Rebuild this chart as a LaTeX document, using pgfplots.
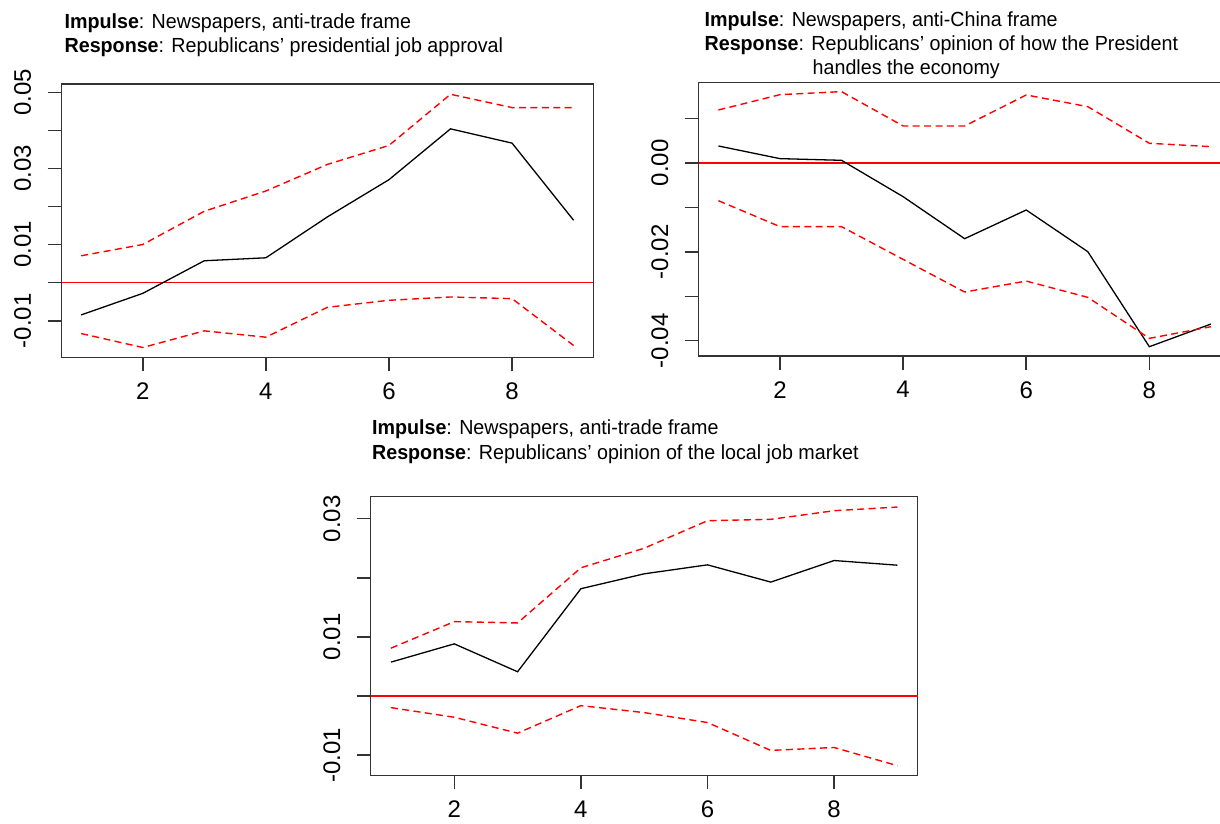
\documentclass[border=0pt]{standalone}
\usepackage{pgfplots}
\pgfplotsset{compat=1.18}
\usepackage{graphicx}
\usepackage{fontspec}
\setmainfont{Liberation Sans}
\pgfplotsset{
  irf/.style={
    scale only axis,
    xmin=0.68, xmax=9.32,
    xtick={2,4,6,8},
    scaled y ticks=false, scaled x ticks=false,
    xtick pos=bottom, ytick pos=left,
    tick align=outside,
    major tick length=7pt,
    every tick/.style={black!80, line width=0.75pt},
    axis line style={black!80, line width=0.75pt},
    /pgf/number format/assume math mode=true,
    ticklabel style={font=\fontsize{12}{14}\selectfont},
    xticklabel style={anchor=north, inner sep=0pt},
    yticklabel style={rotate=90, anchor=south, inner sep=0pt},
    xticklabel shift=5.5pt,
    yticklabel shift=8pt,
    clip=false,
  },
  est/.style={black, line width=0.65pt},
  ci/.style={red, line width=0.7pt, dash pattern=on 3.5pt off 2.2pt},
  zero/.style={red, line width=0.75pt},
}
\newcommand{\ttl}[1]{\scalebox{0.965}[1]{\fontsize{10.2}{12}\selectfont #1}}
\begin{document}
\begin{tikzpicture}
\path[use as bounding box] (0,0) rectangle (610pt,412pt);

% Panel 1
\begin{axis}[irf, at={(30.75pt,233.35pt)}, anchor=south west,
  width=265.9pt, height=136.65pt,
  ymin=-0.01959, ymax=0.05218,
  ytick={-0.01,0,0.01,0.02,0.03,0.04,0.05},
  yticklabels={-0.01,,0.01,,0.03,,0.05}]
\addplot[zero] coordinates {(0.68,0) (9.32,0)};
\addplot[est] coordinates {(1,-0.00846) (2,-0.0028) (3,0.00576) (4,0.00654) (5,0.01728) (6,0.02705) (7,0.0404) (8,0.03665) (9,0.0164)};
\addplot[ci] coordinates {(1,0.00707) (2,0.01003) (3,0.01876) (4,0.02408) (5,0.03106) (6,0.03604) (7,0.04948) (8,0.04599) (9,0.04599)};
\addplot[ci] coordinates {(1,-0.01335) (2,-0.01702) (3,-0.01265) (4,-0.01431) (5,-0.00646) (6,-0.00462) (7,-0.00375) (8,-0.00419) (9,-0.01649)};
\end{axis}
\node[anchor=base west, inner sep=0pt] at (32.1pt,397.85pt) {\ttl{\textbf{Impulse}: Newspapers, anti-trade frame}};
\node[anchor=base west, inner sep=0pt] at (32.1pt,385.85pt) {\ttl{\textbf{Response}: Republicans’ presidential job approval}};

% Panel 2
\begin{axis}[irf, at={(349.35pt,234pt)}, anchor=south west,
  width=265.95pt, height=136.65pt,
  ymin=-0.04344, ymax=0.01807,
  ytick={-0.04,-0.03,-0.02,-0.01,0,0.01},
  yticklabels={-0.04,,-0.02,,0.00,}]
\addplot[zero] coordinates {(0.68,0) (9.32,0)};
\addplot[est] coordinates {(1,0.00383) (2,0.00098) (3,0.0006) (4,-0.00758) (5,-0.01704) (6,-0.01058) (7,-0.01996) (8,-0.04135) (9,-0.03625)};
\addplot[ci] coordinates {(1,0.01193) (2,0.01538) (3,0.01606) (4,0.00833) (5,0.00833) (6,0.01531) (7,0.01268) (8,0.00443) (9,0.00368)};
\addplot[ci] coordinates {(1,-0.00848) (2,-0.01433) (3,-0.01433) (4,-0.02169) (5,-0.02904) (6,-0.02657) (7,-0.03024) (8,-0.03947) (9,-0.03685)};
\end{axis}
\node[anchor=base west, inner sep=0pt] at (352.1pt,398.65pt) {\ttl{\textbf{Impulse}: Newspapers, anti-China frame}};
\node[anchor=base west, inner sep=0pt] at (352.1pt,386.65pt) {\ttl{\textbf{Response}: Republicans’ opinion of how the President}};
\node[anchor=base west, inner sep=0pt] at (406.15pt,374.5pt) {\ttl{handles the economy}};

% Panel 3
\begin{axis}[irf, at={(185.35pt,24.35pt)}, anchor=south west,
  width=273.5pt, height=139.3pt,
  ymin=-0.01342, ymax=0.03372,
  ytick={-0.01,0,0.01,0.02,0.03},
  yticklabels={-0.01,,0.01,,0.03}]
\addplot[zero] coordinates {(0.68,0) (9.32,0)};
\addplot[est] coordinates {(1,0.00573) (2,0.00882) (3,0.0041) (4,0.01815) (5,0.02067) (6,0.02219) (7,0.01927) (8,0.02292) (9,0.02213)};
\addplot[ci] coordinates {(1,0.00809) (2,0.01258) (3,0.01236) (4,0.02169) (5,0.025) (6,0.02966) (7,0.02989) (8,0.03135) (9,0.03197)};
\addplot[ci] coordinates {(1,-0.00197) (2,-0.0036) (3,-0.00629) (4,-0.00163) (5,-0.00281) (6,-0.00449) (7,-0.00921) (8,-0.00871) (9,-0.0118)};
\end{axis}
\node[anchor=base west, inner sep=0pt] at (185.85pt,194.5pt) {\ttl{\textbf{Impulse}: Newspapers, anti-trade frame}};
\node[anchor=base west, inner sep=0pt] at (185.85pt,182pt) {\ttl{\textbf{Response}: Republicans’ opinion of the local job market}};
\end{tikzpicture}
\end{document}
